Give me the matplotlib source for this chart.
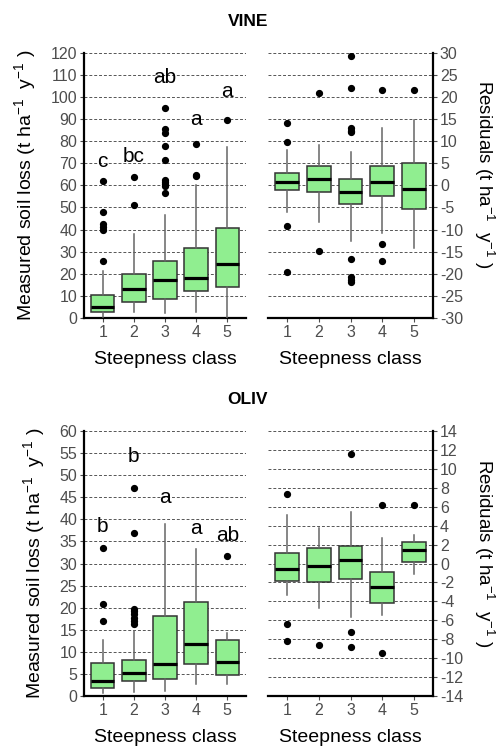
import matplotlib
matplotlib.use("Agg")
import matplotlib.pyplot as plt

plt.rcParams['font.family'] = ['Liberation Sans', 'DejaVu Sans']
plt.rcParams['mathtext.fontset'] = 'custom'
plt.rcParams['mathtext.rm'] = 'Liberation Sans'
plt.rcParams['mathtext.it'] = 'Liberation Sans'
plt.rcParams['axes.unicode_minus'] = False

classes = [1, 2, 3, 4, 5]

# ---- VINE measured soil loss ----
vine_q1 = [2.5, 7.3, 8.5, 12.3, 14.0]
vine_med = [5.0, 13.0, 17.1, 18.3, 24.5]
vine_q3 = [10.5, 19.7, 25.9, 31.6, 40.5]
vine_lo = [0.3, 2.5, 2.2, 2.6, 0.0]
vine_hi = [21.3, 38.0, 46.7, 60.0, 77.3]
vine_fliers = [
    [25.6, 39.9, 41.3, 42.5, 47.8, 61.8],
    [51.3, 64.0],
    [56.6, 59.5, 60.5, 61.3, 62.3, 71.4, 77.7, 83.8, 85.3, 95.0],
    [64.2, 64.8, 78.5],
    [89.7],
]
vine_letters = ['c', 'bc', 'ab', 'a', 'a']
vine_letter_y = [70.8, 73.2, 109.0, 89.8, 102.6]

# ---- VINE residuals ----
vres_q1 = [-1.1, -1.6, -4.2, -2.3, -5.4]
vres_med = [0.7, 1.4, -1.45, 0.8, -0.8]
vres_q3 = [2.7, 4.4, 1.4, 4.4, 5.1]
vres_lo = [-6.1, -8.3, -12.6, -10.7, -14.1]
vres_hi = [7.9, 9.1, 7.6, 12.9, 14.8]
vres_fliers = [
    [9.7, 14.2, -9.2, -19.6],
    [20.9, -14.8],
    [29.2, 22.1, 12.9, 12.3, 12.0, -16.6, -20.7, -21.3, -21.9],
    [21.5, -13.2, -17.0],
    [21.5],
]

# ---- OLIV measured soil loss ----
oliv_q1 = [1.7, 3.3, 3.9, 7.3, 4.7]
oliv_med = [3.5, 5.1, 7.3, 11.8, 7.6]
oliv_q3 = [7.4, 8.2, 18.2, 21.2, 12.7]
oliv_lo = [0.6, 1.0, 1.1, 2.8, 2.7]
oliv_hi = [12.6, 14.8, 39.0, 33.2, 14.2]
oliv_fliers = [
    [16.9, 20.9, 33.4],
    [16.2, 17.0, 17.7, 18.5, 19.2, 19.6, 37.0, 47.1],
    [],
    [],
    [31.7],
]
oliv_letters = ['b', 'b', 'a', 'a', 'ab']
oliv_letter_y = [38.3, 54.3, 44.9, 37.9, 36.4]

# ---- OLIV residuals ----
ores_q1 = [-1.8, -2.0, -1.6, -4.2, 0.2]
ores_med = [-0.56, -0.3, 0.4, -2.5, 1.4]
ores_q3 = [1.1, 1.6, 1.9, -0.9, 2.3]
ores_lo = [-3.3, -4.7, -5.65, -5.4, -1.1]
ores_hi = [5.1, 3.8, 5.4, 2.7, 3.0]
ores_fliers = [
    [7.3, -6.4, -8.2],
    [-8.6],
    [11.6, -7.2, -8.8],
    [6.2, -9.5],
    [6.2],
]

W, H = 496, 747
fig = plt.figure(figsize=(W / 100, H / 100), dpi=100)

def px_axes(left, top, right, bottom):
    return fig.add_axes([left / W, 1 - bottom / H, (right - left) / W, (bottom - top) / H])

GREEN = '#90EE90'
TICKC = '#4D4D4D'

def draw_box(ax, q1, med, q3, lo, hi, fliers, ylim, yticks, side):
    stats = []
    for i in range(len(classes)):
        stats.append(dict(med=med[i], q1=q1[i], q3=q3[i], whislo=lo[i], whishi=hi[i],
                          fliers=fliers[i]))
    ax.bxp(stats, positions=classes, widths=0.75, patch_artist=True, showcaps=False,
           boxprops=dict(facecolor=GREEN, edgecolor='#333333', linewidth=1.1),
           medianprops=dict(color='black', linewidth=2.3),
           whiskerprops=dict(color='#666666', linewidth=1.1),
           flierprops=dict(marker='o', markerfacecolor='black', markeredgecolor='black',
                           markersize=4.2, linestyle='none'),
           zorder=3)
    ax.set_xlim(0.4, 5.6)
    ax.set_ylim(*ylim)
    ax.set_yticks(yticks)
    ax.set_xticks(classes)
    ax.set_xticklabels([str(c) for c in classes])
    for y in yticks:
        ax.axhline(y, color='#555555', linewidth=0.7, linestyle=(0, (3, 2)), zorder=1)
    for s in ['top', 'left', 'right', 'bottom']:
        ax.spines[s].set_visible(False)
    ax.spines['bottom'].set_visible(True)
    ax.spines['bottom'].set_linewidth(1.6)
    ax.spines[side].set_visible(True)
    ax.spines[side].set_linewidth(1.6)
    ax.tick_params(axis='both', colors=TICKC, labelcolor=TICKC, labelsize=11.5,
                   length=3, width=0.8, pad=2)
    if side == 'right':
        ax.yaxis.tick_right()
    ax.set_xlabel('Steepness class', fontsize=14, color='black', labelpad=8)

ylab_left = r'Measured soil loss (t ha$^{-1}$  y$^{-1}$ )'
ylab_right = r'Residuals (t ha$^{-1}$  y$^{-1}$ )'

# Top row
ax1 = px_axes(84, 52.7, 246, 318)
draw_box(ax1, vine_q1, vine_med, vine_q3, vine_lo, vine_hi, vine_fliers,
         (0, 120), list(range(0, 121, 10)), 'left')
for c, t, y in zip(classes, vine_letters, vine_letter_y):
    ax1.text(c, y, t, ha='center', va='center', fontsize=15, zorder=4)
ax1.set_ylabel(ylab_left, fontsize=14, labelpad=9)

ax2 = px_axes(268, 52.7, 433, 318)
draw_box(ax2, vres_q1, vres_med, vres_q3, vres_lo, vres_hi, vres_fliers,
         (-30, 30), list(range(-30, 31, 5)), 'right')

# Bottom row
ax3 = px_axes(84, 431, 246, 696)
draw_box(ax3, oliv_q1, oliv_med, oliv_q3, oliv_lo, oliv_hi, oliv_fliers,
         (0, 60), list(range(0, 61, 5)), 'left')
for c, t, y in zip(classes, oliv_letters, oliv_letter_y):
    ax3.text(c, y, t, ha='center', va='center', fontsize=15, zorder=4)
ax3.set_ylabel(ylab_left, fontsize=14, labelpad=9)

ax4 = px_axes(268, 431, 433, 696)
draw_box(ax4, ores_q1, ores_med, ores_q3, ores_lo, ores_hi, ores_fliers,
         (-14, 14), list(range(-14, 15, 2)), 'right')

fig.text(484 / W, 1 - 174 / H, ylab_right, rotation=270, ha='center', va='center', fontsize=13.5)
fig.text(484 / W, 1 - 553 / H, ylab_right, rotation=270, ha='center', va='center', fontsize=13.5)

fig.text(0.5, 1 - 22 / H, 'VINE', ha='center', va='center', fontsize=12.5, fontweight='bold')
fig.text(0.5, 1 - 400 / H, 'OLIV', ha='center', va='center', fontsize=12.5, fontweight='bold')

fig.savefig('out.png', dpi=100)
